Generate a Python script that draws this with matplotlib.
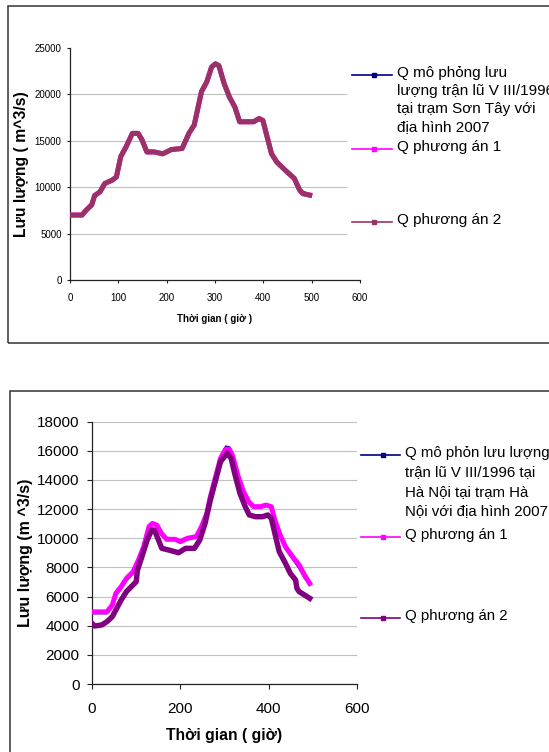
import matplotlib
matplotlib.use("Agg")
import matplotlib.pyplot as plt
from matplotlib.patches import Rectangle
from matplotlib.lines import Line2D

plt.rcParams['font.family'] = ['Liberation Sans', 'DejaVu Sans']

# ---------------- Sơn Tây station ----------------
st_hours = [0, 25, 33, 45, 51, 62, 72, 87, 96, 105, 116, 129, 141, 149, 159, 174,
            192, 210, 232, 246, 257, 272, 283, 293, 301, 308, 319, 330, 341, 351,
            362, 380, 391, 399, 406, 417, 428, 438, 449, 464, 475, 482, 496]
st_sim = [7000, 7000, 7500, 8100, 9100, 9500, 10300, 10700, 11000, 13200, 14300,
          15700, 15800, 15100, 13900, 13900, 13700, 14100, 14200, 15800, 16700,
          20300, 21300, 22900, 23300, 23100, 21100, 19700, 18600, 17100, 17100,
          17100, 17400, 17200, 15900, 13700, 12800, 12300, 11700, 11000, 9900,
          9500, 9250]
st_pa1 = [7000, 7000, 7500, 8100, 9100, 9500, 10400, 10750, 11100, 13300, 14350,
          15800, 15800, 15100, 13800, 13800, 13600, 14060, 14170, 15800, 16700,
          20300, 21350, 22950, 23300, 23100, 21150, 19700, 18650, 17050, 17050,
          17050, 17400, 17200, 15800, 13600, 12700, 12200, 11650, 10950, 9700,
          9300, 9150]
st_pa2 = [7000, 7000, 7500, 8100, 9100, 9500, 10400, 10750, 11100, 13300, 14350,
          15800, 15800, 15100, 13800, 13800, 13600, 14060, 14170, 15800, 16700,
          20300, 21350, 22950, 23300, 23100, 21150, 19700, 18650, 17050, 17050,
          17050, 17400, 17200, 15800, 13600, 12700, 12200, 11650, 10950, 9700,
          9300, 9150]
st_labels = ["Q mô phỏng lưu\nlượng trận lũ V III/1996\ntại trạm Sơn Tây với\nđịa hình 2007",
             "Q phương án 1", "Q phương án 2"]

# ---------------- Hà Nội station ----------------
hn_hours = [0, 34, 46, 54, 66, 78, 93, 105, 117, 129, 137, 147, 157, 169, 188,
            200, 216, 236, 248, 260, 268, 280, 291, 303, 311, 319, 331, 343, 355,
            366, 382, 394, 406, 414, 426, 438, 454, 469, 481, 493]
hn_sim = [4850, 4850, 5300, 6100, 6550, 7100, 7600, 8400, 9400, 10700, 10950,
          10850, 10250, 9900, 9900, 9750, 9950, 10050, 10750, 11700, 12900, 14350,
          15650, 16300, 16250, 15550, 14150, 13100, 12400, 12150, 12150, 12250,
          12100, 11150, 10100, 9300, 8600, 7950, 7300, 6800]
hn_pa1 = [4950, 4950, 5420, 6220, 6680, 7250, 7700, 8500, 9420, 10800, 11020,
          10900, 10340, 9930, 9930, 9770, 10000, 10110, 10800, 11710, 12850, 14230,
          15490, 16120, 16120, 15600, 14230, 13200, 12500, 12170, 12170, 12280,
          12170, 11250, 10220, 9420, 8740, 8170, 7480, 6900]
hn_hours2 = [0, 6, 22, 34, 46, 54, 66, 78, 89, 100, 103, 113, 125, 135, 141, 149,
             158, 173, 196, 212, 232, 244, 256, 268, 280, 291, 306, 315, 323, 335,
             347, 356, 370, 386, 398, 406, 414, 424, 438, 449, 461, 464, 469, 481, 493]
hn_pa2 = [4160, 3980, 4050, 4280, 4620, 5080, 5760, 6340, 6680, 7020, 7820, 8740,
          9880, 10570, 10570, 10000, 9310, 9200, 9010, 9310, 9310, 9880, 11020,
          12630, 14000, 15260, 15830, 15490, 14460, 13080, 12170, 11600, 11480,
          11480, 11600, 11370, 10340, 9080, 8280, 7590, 7140, 6560, 6340, 6110, 5880]
hn_labels = ["Q mô phỏn lưu lượng\ntrận lũ V III/1996 tại\nHà Nội tại trạm Hà\nNội với địa hình 2007",
             "Q phương án 1", "Q phương án 2"]

W, H = 549, 752
fig = plt.figure(figsize=(W / 100, H / 100), dpi=100)
fig.patch.set_facecolor('white')


def fx(px):
    return px / W


def fy(py):
    return 1 - py / H


def style_axes(ax, size, xpad, ypad, tlen):
    for s in ('top', 'right'):
        ax.spines[s].set_visible(False)
    for s in ('left', 'bottom'):
        ax.spines[s].set_color('#222222')
        ax.spines[s].set_linewidth(0.9)
    ax.tick_params(axis='both', direction='out', length=tlen, width=0.8,
                   color='#222222', labelsize=size)
    ax.tick_params(axis='x', pad=xpad)
    ax.tick_params(axis='y', pad=ypad)


def legend_block(x_line0, x_line1, x_text, rows, texts, colors, fontsize, spacing):
    for yrow, txt, col in zip(rows, texts, colors):
        fig.add_artist(Line2D([fx(x_line0), fx(x_line1)], [fy(yrow), fy(yrow)],
                              transform=fig.transFigure, color=col, lw=1.2))
        xm = (x_line0 + x_line1) / 2 + 2
        fig.add_artist(Line2D([fx(xm)], [fy(yrow)], transform=fig.transFigure,
                              color=col, marker='s', markersize=3.2, lw=0))
        fig.text(fx(x_text), fy(yrow - 9), txt, fontsize=fontsize, color='black',
                 ha='left', va='top', linespacing=spacing,
                 transform=fig.transFigure)

# ---------- upper panel ----------
fig.add_artist(Rectangle((fx(8.4), fy(343)), 1.0, fy(6) - fy(343),
                         transform=fig.transFigure, fill=False,
                         edgecolor='#333333', lw=1.1))
ax1 = fig.add_axes([fx(70), fy(280), fx(360) - fx(70), fy(48) - fy(280)])
ax1.hlines([5000, 10000, 15000, 20000], 0, 574, colors='#c0c0c0', lw=0.8, zorder=0)
ax1.plot(st_hours, st_sim, color='#000080', lw=1.5, zorder=2)
ax1.plot(st_hours, st_pa1, color='#ff00ff', lw=3.6, zorder=3)
ax1.plot(st_hours, st_pa2, color='#993366', lw=3.6, zorder=4)
ax1.set_xlim(0, 600)
ax1.set_ylim(0, 25000)
ax1.set_xticks(range(0, 601, 100))
ax1.set_yticks(range(0, 25001, 5000))
style_axes(ax1, 7.0, 6.8, 3.6, 2.4)
ax1.set_ylabel('Lưu lượng ( m^3/s)', fontsize=11.3, fontweight='bold')
ax1.yaxis.set_label_coords((22 - 70) / 290, 0.5)
ax1.set_xlabel('Thời gian ( giờ )', fontsize=7.0, fontweight='bold')
ax1.xaxis.set_label_coords(0.5, (280 - 318.7) / 232)
ax1.xaxis.label.set_va('center')
ax1.yaxis.label.set_va('center')

legend_block(352, 392, 397, [75, 149, 222], st_labels,
             ['#000080', '#ff00ff', '#993366'], 11.0, 1.36)

# ---------- lower panel ----------
fig.add_artist(Rectangle((fx(9.8), -0.01), 1.0, fy(390.7) + 0.01,
                         transform=fig.transFigure, fill=False,
                         edgecolor='#333333', lw=1.1))
ax2 = fig.add_axes([fx(92), fy(684), fx(357) - fx(92), fy(421.7) - fy(684)])
ax2.yaxis.grid(True, color='#c0c0c0', lw=0.8)
ax2.set_axisbelow(True)
ax2.plot(hn_hours, hn_sim, color='#000080', lw=1.5, zorder=2)
ax2.plot(hn_hours, hn_pa1, color='#ff00ff', lw=3.6, zorder=3)
ax2.plot(hn_hours2, hn_pa2, color='#800080', lw=3.9, zorder=4)
ax2.set_xlim(0, 600)
ax2.set_ylim(0, 18000)
ax2.set_xticks(range(0, 601, 200))
ax2.set_yticks(range(0, 18001, 2000))
style_axes(ax2, 11.0, 9.5, 5.5, 3.5)
ax2.set_ylabel('Lưu lượng (m ^3/s)', fontsize=11.5, fontweight='bold')
ax2.yaxis.set_label_coords((25 - 92) / 265, 0.5)
ax2.set_xlabel('Thời gian ( giờ)', fontsize=11.3, fontweight='bold')
ax2.xaxis.set_label_coords(0.5, (684 - 735.7) / 262.3)
ax2.xaxis.label.set_va('center')
ax2.yaxis.label.set_va('center')

legend_block(361, 400, 405, [455, 537, 618], hn_labels,
             ['#000080', '#ff00ff', '#800080'], 10.8, 1.48)

fig.savefig('out.png', dpi=100, facecolor='white')
